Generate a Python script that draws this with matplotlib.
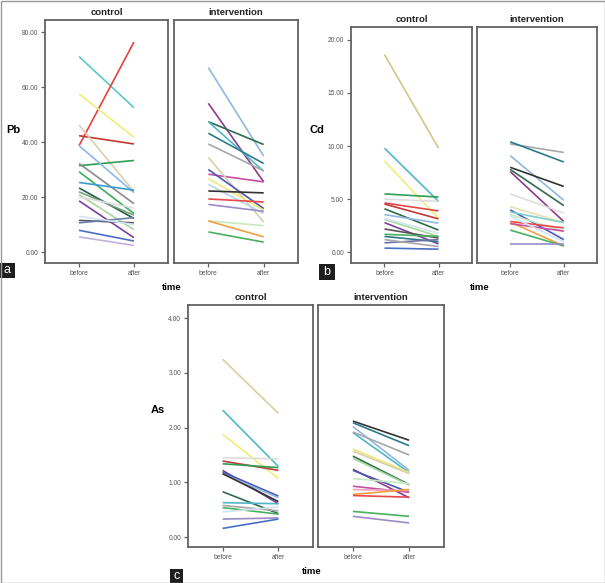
import matplotlib
matplotlib.use("Agg")
import matplotlib.pyplot as plt
from matplotlib.patches import Rectangle

plt.rcParams['font.family'] = ['Liberation Sans', 'DejaVu Sans']

# ---------------- data ----------------
time_labels = ["before", "after"]
facet_names = ["control", "intervention"]

# Panel a: Pb
pb_control_before = [71.1, 38.7, 57.5, 42.3, 46.2, 31.4, 38.7, 32.2, 29.2, 25.3, 23.3, 21.9, 20.9, 18.6, 11.5, 10.6, 7.9, 5.5, 20.0, 13.0]
pb_control_after = [52.5, 76.4, 41.7, 39.3, 22.0, 33.3, 21.6, 17.6, 14.0, 22.5, 12.2, 13.4, 8.1, 5.2, 10.6, 12.5, 4.0, 2.4, 16.0, 10.0]
pb_interv_before = [67.1, 54.1, 47.4, 47.4, 43.2, 39.3, 28.3, 34.4, 30.0, 24.6, 26.7, 22.2, 19.3, 17.3, 11.3, 11.3, 7.3]
pb_interv_after = [34.9, 25.5, 39.1, 29.4, 32.2, 29.5, 25.5, 10.9, 15.8, 14.0, 15.2, 21.5, 18.2, 14.8, 9.6, 5.5, 3.6]

# Panel b: Cd
cd_control_before = [18.6, 9.8, 8.6, 5.5, 5.0, 4.65, 4.55, 4.1, 3.55, 3.1, 2.8, 3.2, 2.2, 1.7, 1.5, 0.9, 0.4, 1.2]
cd_control_after = [9.8, 4.8, 3.2, 5.2, 4.8, 3.9, 3.15, 2.1, 2.75, 1.5, 0.8, 1.8, 1.35, 1.5, 1.0, 1.2, 0.3, 0.55]
cd_interv_before = [10.2, 10.4, 9.1, 8.0, 7.8, 7.6, 5.5, 4.3, 4.0, 3.8, 3.55, 2.9, 2.85, 2.7, 2.1, 0.8, 3.4]
cd_interv_after = [9.4, 8.5, 4.9, 6.2, 4.4, 2.9, 3.7, 2.8, 1.2, 2.8, 2.0, 2.3, 0.6, 2.0, 0.6, 0.8, 1.0]

# Panel c: As
as_control_before = [3.25, 2.32, 1.88, 1.45, 1.39, 1.34, 1.22, 1.19, 1.16, 1.16, 0.83, 0.63, 0.58, 0.54, 0.46, 0.33, 0.16]
as_control_after = [2.26, 1.29, 1.07, 1.43, 1.22, 1.27, 0.61, 0.75, 0.72, 0.65, 0.43, 0.61, 0.48, 0.42, 0.55, 0.35, 0.33]
as_interv_before = [2.12, 2.09, 2.02, 1.91, 1.92, 1.61, 1.57, 1.48, 1.44, 1.24, 1.22, 1.07, 0.93, 0.87, 0.78, 0.76, 0.47, 0.38]
as_interv_after = [1.77, 1.67, 1.22, 1.18, 1.50, 1.18, 1.16, 0.96, 0.95, 0.72, 0.82, 0.98, 0.82, 0.85, 0.87, 0.73, 0.38, 0.26]

pb_ticks = [0, 20, 40, 60, 80]
cd_ticks = [0, 5, 10, 15, 20]
as_ticks = [0, 1, 2, 3, 4]

# ---------------- styles ----------------
pb_control_colors = ["#5cc6c9", "#e8413c", "#f2ec78", "#c4362e", "#dacfae", "#2e9e57", "#8bb8e8", "#8a8a8a",
                     "#3cae5a", "#3a9bd0", "#1f5c4a", "#7aa07a", "#a6d8a0", "#7b3f9e", "#555566", "#6d7fa8",
                     "#4a6fc7", "#c4b0dd", "#dddddd", "#d3e3f2"]
pb_interv_colors = ["#8fb7e0", "#8e3a8e", "#2f6b4f", "#4fb8c8", "#2c7a8a", "#a8a8a8", "#c84fa0", "#d8d0a8",
                    "#4858b0", "#b8d4ee", "#f0e878", "#333333", "#e84848", "#9a8ac8", "#c8e8c0", "#f0a040",
                    "#48b060"]
cd_control_colors = ["#cfc88a", "#4fb8c8", "#f2ec78", "#2e9e57", "#dddddd", "#e04848", "#c43838", "#2f6b4f",
                     "#8fb7e0", "#a6d8a0", "#7b3f9e", "#d3e3f2", "#555555", "#48b060", "#2c7a8a", "#6d6fa8",
                     "#4a6fc7", "#a8a8a8"]
cd_interv_colors = ["#a8a8a8", "#2c7a8a", "#8fb7e0", "#333333", "#2f6b4f", "#8e3a8e", "#dddddd", "#e8e0b0",
                    "#4858d0", "#7fd0c8", "#c8e8c0", "#e84848", "#f0a040", "#c84fa0", "#48b060", "#9a8ac8",
                    "#d3e3f2"]
as_control_colors = ["#d8d0a0", "#4fb8c8", "#f2ec78", "#dddddd", "#c43838", "#2e9e57", "#7b3f9e", "#4858b0",
                     "#8fb7e0", "#333333", "#2f6b4f", "#4fb8c8", "#a8a8a8", "#48b060", "#d3e3f2", "#9a8ac8",
                     "#4a6fc7"]
as_interv_colors = ["#333333", "#2c7a8a", "#8fb7e0", "#4fb8c8", "#a8a8a8", "#f0e878", "#d8d0a8", "#2f6b4f",
                    "#a6d8a0", "#8e3a8e", "#4858b0", "#c8e8c0", "#c84fa0", "#f0a0c0", "#f0a040", "#e84848",
                    "#48b060", "#9a8ac8"]

W, H = 605, 583
fig = plt.figure(figsize=(W / 100, H / 100), dpi=100)

FRAME = "#626262"
TICKC = "#555555"


def rect(x0, x1, y0, y1):
    return [x0 / W, 1 - y1 / H, (x1 - x0) / W, (y1 - y0) / H]


def draw_facet(r, before, after, colors, ylim, ticks, show_y, title):
    ax = fig.add_axes(rect(*r))
    for b, a, c in zip(before, after, colors):
        ax.plot([0, 1], [b, a], color=c, lw=1.2, solid_capstyle="butt")
    ax.set_xlim(-0.62, 1.62)
    ax.set_ylim(*ylim)
    ax.set_xticks([0, 1])
    ax.set_xticklabels(time_labels, fontsize=4.8, color=TICKC)
    if show_y:
        ax.set_yticks(ticks)
        ax.set_yticklabels(["%.2f" % t for t in ticks], fontsize=4.8, color=TICKC)
    else:
        ax.set_yticks([])
    ax.tick_params(axis="both", direction="out", length=3, width=0.9, color=FRAME, pad=2)
    for s in ax.spines.values():
        s.set_color(FRAME)
        s.set_linewidth(1.3)
    ax.set_title(title, fontsize=6.8, fontweight="bold", pad=3.5, color="#222222")
    return ax


def tag(letter, x0, x1, y0, y1):
    fig.patches.append(Rectangle((x0 / W, 1 - y1 / H), (x1 - x0) / W, (y1 - y0) / H,
                                 transform=fig.transFigure, facecolor="#1e1e1e", edgecolor="none"))
    fig.text((x0 + x1) / 2 / W, 1 - (y0 + y1) / 2 / H, letter, color="white", fontsize=9,
             ha="center", va="center")


# Panel a
draw_facet((45, 168, 20, 263), pb_control_before, pb_control_after, pb_control_colors, (-4.0, 84.4), pb_ticks, True, facet_names[0])
draw_facet((174, 298, 20, 263), pb_interv_before, pb_interv_after, pb_interv_colors, (-4.0, 84.4), pb_ticks, False, facet_names[1])
fig.text(13 / W, 1 - 130 / H, "Pb", fontsize=8, fontweight="bold", ha="center", va="center")
fig.text(172 / W, 1 - 287 / H, "time", fontsize=6.8, fontweight="bold", ha="center", va="center")
tag("a", 0, 15, 263, 278)

# Panel b
draw_facet((351, 472, 27, 263), cd_control_before, cd_control_after, cd_control_colors, (-1.0, 21.2), cd_ticks, True, facet_names[0])
draw_facet((477, 597, 27, 263), cd_interv_before, cd_interv_after, cd_interv_colors, (-1.0, 21.2), cd_ticks, False, facet_names[1])
fig.text(317 / W, 1 - 130 / H, "Cd", fontsize=8, fontweight="bold", ha="center", va="center")
fig.text(480 / W, 1 - 287 / H, "time", fontsize=6.8, fontweight="bold", ha="center", va="center")
tag("b", 319, 335, 264, 280)

# Panel c
draw_facet((188, 313, 305, 547), as_control_before, as_control_after, as_control_colors, (-0.18, 4.24), as_ticks, True, facet_names[0])
draw_facet((318, 444, 305, 547), as_interv_before, as_interv_after, as_interv_colors, (-0.18, 4.24), as_ticks, False, facet_names[1])
fig.text(158 / W, 1 - 410 / H, "As", fontsize=8, fontweight="bold", ha="center", va="center")
fig.text(312 / W, 1 - 572 / H, "time", fontsize=6.8, fontweight="bold", ha="center", va="center")
tag("c", 170, 183, 569, 583)

# outer border
fig.patches.append(Rectangle((0.5 / W, 0.5 / H), (W - 1) / W, (H - 1) / H, transform=fig.transFigure,
                             facecolor="none", edgecolor="#9a9a9a", lw=1.0))

fig.savefig("out.png", dpi=100)
